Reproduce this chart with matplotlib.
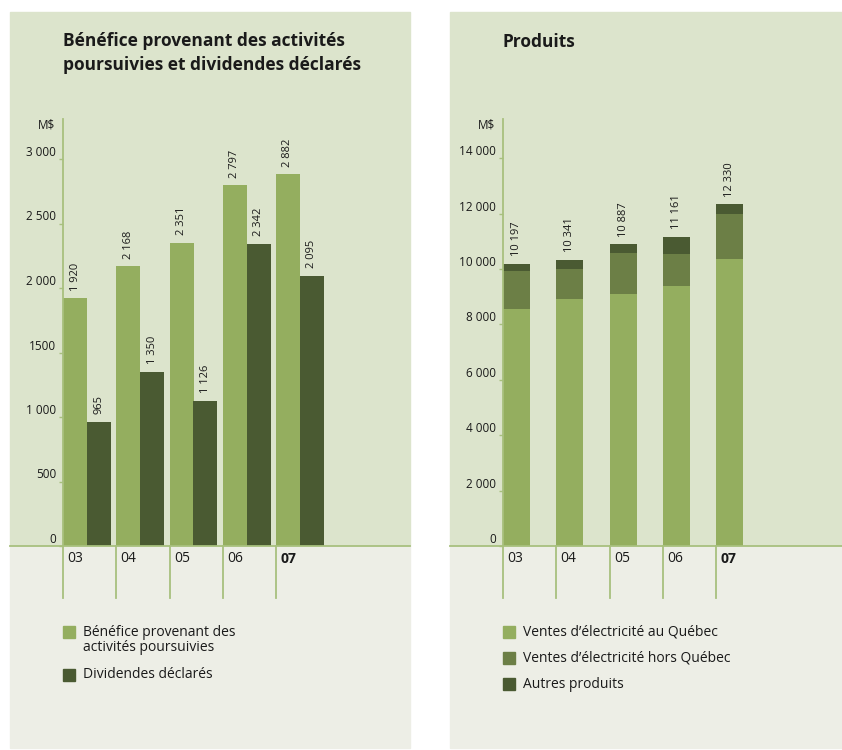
import matplotlib
matplotlib.use("Agg")
import matplotlib.pyplot as plt
from matplotlib.patches import Rectangle
from matplotlib.lines import Line2D

plt.rcParams["font.family"] = ["Open Sans", "DejaVu Sans"]

years = ["03", "04", "05", "06", "07"]

# left chart (M$)
benefice = [1920, 2168, 2351, 2797, 2882]
dividendes = [965, 1350, 1126, 2342, 2095]
left_ticks = [0, 500, 1000, 1500, 2000, 2500, 3000]
left_ticklabels = ["0", "500", "1 000", "1500", "2 000", "2 500", "3 000"]

# right chart (M$)
ventes_quebec = [8570, 8930, 9110, 9400, 10363]
ventes_hors = [1370, 1080, 1480, 1150, 1616]
autres = [257, 331, 297, 611, 351]
totaux = [10197, 10341, 10887, 11161, 12330]
right_ticks = [0, 2000, 4000, 6000, 8000, 10000, 12000, 14000]
right_ticklabels = ["0", "2 000", "4 000", "6 000", "8 000", "10 000", "12 000", "14 000"]

W, H = 842, 750
C_LIGHT = "#94ae5f"
C_MID = "#6c7f46"
C_DARK = "#4a5a32"
BG_TOP = "#dce4cc"
BG_BOT = "#edeee6"
LINE = "#a8c07e"
TXT = "#1a1a1a"


def fmt(v):
    return f"{v:,}".replace(",", " ")


def px_rect(x, y, w, h):
    return [x / W, 1 - (y + h) / H, w / W, h / H]


fig = plt.figure(figsize=(W / 100, H / 100), dpi=100)
fig.patch.set_facecolor("white")

# panel backgrounds
for x0, x1 in [(10, 410), (450, 842)]:
    fig.patches.append(Rectangle((x0 / W, 1 - 546 / H), (x1 - x0) / W, (546 - 12) / H,
                                 transform=fig.transFigure, color=BG_TOP, zorder=-2))
    fig.patches.append(Rectangle((x0 / W, 1 - 748 / H), (x1 - x0) / W, (748 - 546) / H,
                                 transform=fig.transFigure, color=BG_BOT, zorder=-2))
    fig.add_artist(Line2D([x0 / W, x1 / W], [1 - 546 / H, 1 - 546 / H],
                          transform=fig.transFigure, color=LINE, lw=1.3, zorder=5))

group_w = 53.25


def setup_axis(ax, ticks, ticklabels, ymax, xmax, width_px):
    ax.set_facecolor("none")
    ax.set_xlim(0, xmax)
    ax.set_ylim(0, ymax)
    for s in ["top", "right", "bottom"]:
        ax.spines[s].set_visible(False)
    ax.spines["left"].set_color(LINE)
    ax.spines["left"].set_linewidth(1.3)
    ax.set_xticks([])
    ax.set_yticks(ticks)
    ax.set_yticklabels(ticklabels)
    ax.tick_params(axis="y", length=3, width=1, color=LINE, pad=2,
                   labelsize=8.5, labelcolor=TXT)
    for lab in ax.get_yticklabels():
        lab.set_va("bottom")
    ax.text(-8 / width_px, 1 - 6 / 427, "M$", transform=ax.transAxes, ha="right",
            va="center", fontsize=8.5, color=TXT)
    # category separators and labels below the baseline
    trans = ax.get_xaxis_transform()
    depth = 52 / 427
    for i, yr in enumerate(years):
        ax.plot([i, i], [0, -depth], transform=trans, color=LINE, lw=1.3,
                clip_on=False)
        ax.text(i + 0.08, -13 / 427, yr, transform=trans, ha="left", va="center",
                fontsize=10, color=TXT,
                fontweight="bold" if i == len(years) - 1 else "normal")


# ---- left chart
axL = fig.add_axes(px_rect(63, 119, 347, 427))
xs = list(range(len(years)))
bw = 24 / group_w
axL.bar(xs, benefice, width=bw, align="edge", color=C_LIGHT)
axL.bar([x + bw for x in xs], dividendes, width=bw, align="edge", color=C_DARK)
setup_axis(axL, left_ticks, left_ticklabels, 427 / 0.129, 347 / group_w, 347)
for i in xs:
    axL.annotate(fmt(benefice[i]), (i + bw / 2, benefice[i]), xytext=(0, 5.5),
                 textcoords="offset points", rotation=90, ha="center", va="bottom",
                 fontsize=8, color=TXT)
    axL.annotate(fmt(dividendes[i]), (i + 1.5 * bw, dividendes[i]), xytext=(0, 5.5),
                 textcoords="offset points", rotation=90, ha="center", va="bottom",
                 fontsize=8, color=TXT)
fig.text(63 / W, 1 - 53 / H, "Bénéfice provenant des activités\npoursuivies et dividendes déclarés",
         ha="left", va="center", fontsize=12.5, fontweight="bold", color=TXT,
         linespacing=1.45)

# ---- right chart
axR = fig.add_axes(px_rect(503, 119, 339, 427))
bw2 = 27 / group_w
bottom2 = [a + b for a, b in zip(ventes_quebec, ventes_hors)]
axR.bar(xs, ventes_quebec, width=bw2, align="edge", color=C_LIGHT)
axR.bar(xs, ventes_hors, bottom=ventes_quebec, width=bw2, align="edge", color=C_MID)
axR.bar(xs, autres, bottom=bottom2, width=bw2, align="edge", color=C_DARK)
setup_axis(axR, right_ticks, right_ticklabels, 427 / 0.0277, 339 / group_w, 339)
for i in xs:
    axR.annotate(fmt(totaux[i]), (i + bw2 / 2, totaux[i]), xytext=(0, 5.5),
                 textcoords="offset points", rotation=90, ha="center", va="bottom",
                 fontsize=8, color=TXT)
fig.text(503 / W, 1 - 42 / H, "Produits", ha="left", va="center", fontsize=12.5,
         fontweight="bold", color=TXT)


# ---- legends
def legend_entry(x, y, color, label):
    fig.patches.append(Rectangle((x / W, 1 - (y + 6) / H), 12 / W, 12 / H,
                                 transform=fig.transFigure, color=color, zorder=3))
    fig.text((x + 20) / W, 1 - (y - 7.5) / H, label, ha="left", va="top", fontsize=10,
             color=TXT, linespacing=1.05)


legend_entry(63, 632, C_LIGHT, "Bénéfice provenant des\nactivités poursuivies")
legend_entry(63, 675, C_DARK, "Dividendes déclarés")
legend_entry(503, 632, C_LIGHT, "Ventes d’électricité au Québec")
legend_entry(503, 658, C_MID, "Ventes d’électricité hors Québec")
legend_entry(503, 684, C_DARK, "Autres produits")

fig.savefig("out.png", dpi=100)
